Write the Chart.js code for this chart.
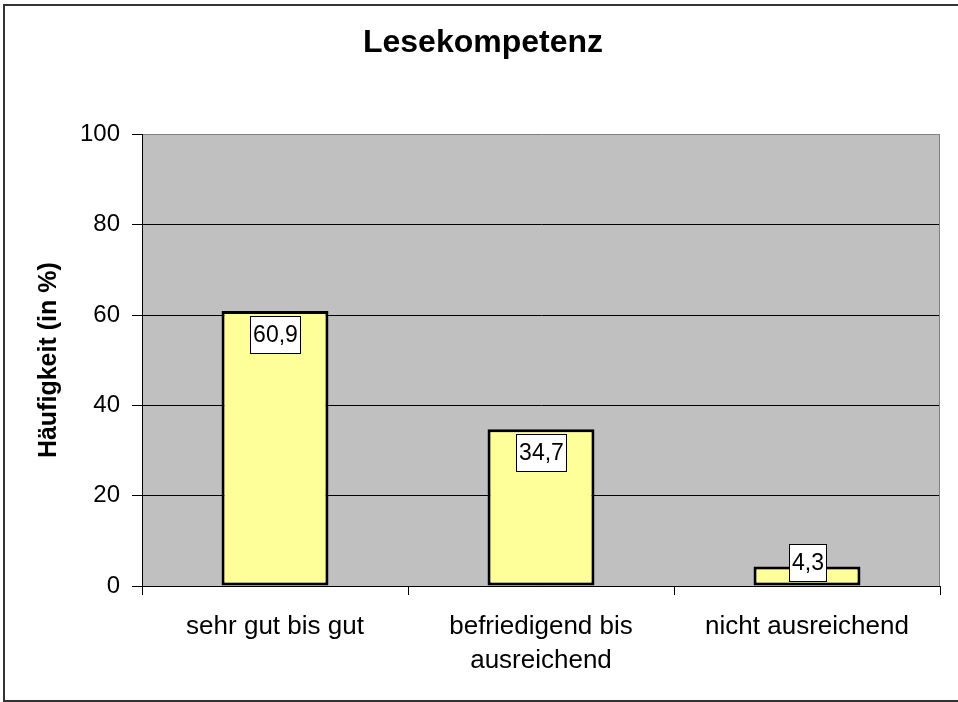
<!DOCTYPE html>
<html>
<head>
<meta charset="utf-8">
<script src="https://cdn.jsdelivr.net/npm/chart.js@4.4.1/dist/chart.umd.min.js"></script>
<style>
  body { margin: 0; background: #fff; }
  canvas { display: block; }
</style>
</head>
<body>
<canvas id="chart" width="958" height="702"></canvas>
<script>
const categories = ["sehr gut bis gut", ["befriedigend bis", "ausreichend"], "nicht ausreichend"];
const values = [60.9, 34.7, 4.3];
const yRange = [0, 100];
const yStep = 20;

const FONT = "'Liberation Sans', Arial, sans-serif";

// grey plot background, outer frame and the value boxes
const excelLook = {
  id: "excelLook",
  beforeDraw: function (chart) {
    const { ctx, chartArea: a } = chart;
    ctx.save();
    ctx.fillStyle = "#fff";
    ctx.fillRect(0, 0, chart.width, chart.height);
    ctx.fillStyle = "#C0C0C0";
    ctx.fillRect(a.left, a.top, a.right - a.left, a.bottom - a.top);
    ctx.restore();
  },
  beforeDatasetsDraw: function (chart) {
    const { ctx, chartArea: a } = chart;
    ctx.save();
    ctx.strokeStyle = "#808080";
    ctx.lineWidth = 1;
    ctx.beginPath();
    ctx.moveTo(a.right - 0.5, a.top);
    ctx.lineTo(a.right - 0.5, a.bottom);
    ctx.stroke();
    ctx.restore();
  },
  afterDatasetsDraw: function (chart) {
    const ctx = chart.ctx;
    const base = chart.chartArea.bottom;
    const meta = chart.getDatasetMeta(0);
    ctx.save();
    ctx.font = "23px " + FONT;
    ctx.textAlign = "center";
    ctx.textBaseline = "middle";
    meta.data.forEach((bar, i) => {
      const text = values[i].toFixed(1).replace(".", ",");
      const w = Math.round(ctx.measureText(text).width) + 5;
      const h = 37;
      const x = Math.round(bar.x - w / 2) + 0.5;
      const y = Math.round(Math.min(bar.y + 5, base - 5 - h)) + 0.5;
      ctx.fillStyle = "#fff";
      ctx.fillRect(x, y, w, h);
      ctx.strokeStyle = "#000";
      ctx.lineWidth = 1;
      ctx.strokeRect(x, y, w, h);
      ctx.fillStyle = "#000";
      ctx.fillText(text, x + w / 2, y + h / 2 + 1);
    });
    ctx.restore();
  },
  afterDraw: function (chart) {
    const ctx = chart.ctx;
    ctx.save();
    ctx.strokeStyle = "#333";
    ctx.lineWidth = 2;
    ctx.beginPath();
    ctx.moveTo(chart.width, 5);
    ctx.lineTo(4, 5);
    ctx.lineTo(4, 701);
    ctx.lineTo(chart.width, 701);
    ctx.stroke();
    ctx.restore();
  },
};

Chart.defaults.color = "#000";
Chart.defaults.font.family = FONT;

new Chart(document.getElementById("chart"), {
  type: "bar",
  data: {
    labels: categories,
    datasets: [
      {
        data: values,
        backgroundColor: "#FFFF99",
        borderColor: "#000",
        borderWidth: 3,
        borderSkipped: false,
        categoryPercentage: 1,
        barPercentage: 0.402,
      },
    ],
  },
  options: {
    responsive: false,
    animation: false,
    layout: { padding: { left: 26, right: 18, top: 10, bottom: 0 } },
    plugins: {
      legend: { display: false },
      tooltip: { enabled: false },
      title: {
        display: true,
        text: "Lesekompetenz",
        font: { size: 32, weight: "bold" },
        padding: { top: 14, bottom: 72 },
      },
    },
    scales: {
      x: {
        grid: { offset: true, drawOnChartArea: false, tickLength: 9, tickColor: "#000" },
        border: { color: "#000", width: 1 },
        ticks: { font: { size: 26, lineHeight: 1.3 }, padding: 15, maxRotation: 0, autoSkip: false },
        afterFit: (scale) => { scale.height = 116; },
      },
      y: {
        min: yRange[0],
        max: yRange[1],
        grid: {
          color: (c) => (c.tick && c.tick.value === yRange[1] ? "#808080" : "#000"),
          tickColor: "#000",
          tickLength: 10,
        },
        border: { color: "#000", width: 1 },
        ticks: { stepSize: yStep, font: { size: 24 }, padding: 12 },
        title: {
          display: true,
          text: "Häufigkeit (in %)",
          font: { size: 25, weight: "bold" },
          padding: { top: 8 },
        },
        afterFit: (scale) => { scale.width = 116; },
      },
    },
  },
  plugins: [excelLook],
});
</script>
</body>
</html>
